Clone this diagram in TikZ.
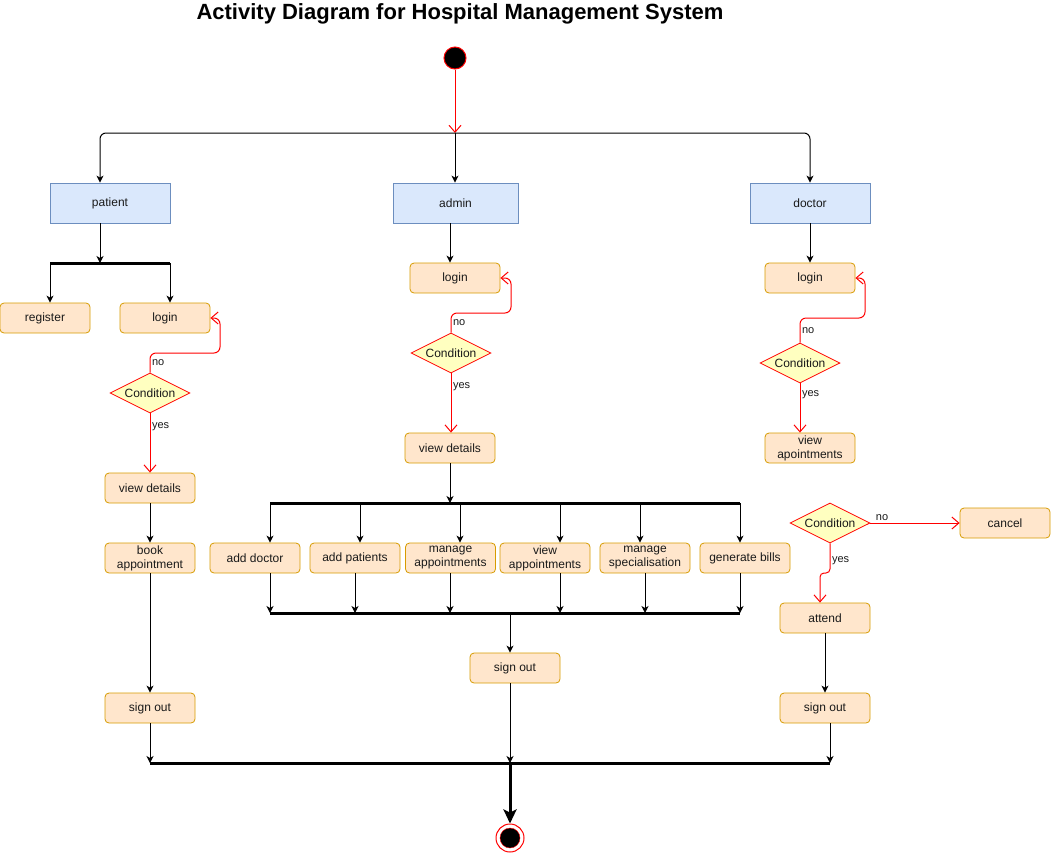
\documentclass[tikz,border=0pt]{standalone}
\usepackage{fontspec}
\setmainfont{Liberation Sans}
\usetikzlibrary{arrows.meta,shapes.geometric}
\definecolor{actfill}{HTML}{FFE6CC}
\definecolor{actstroke}{HTML}{D79B00}
\definecolor{rolefill}{HTML}{DAE8FC}
\definecolor{rolestroke}{HTML}{6C8EBF}
\definecolor{condfill}{HTML}{FFFFC0}
\definecolor{txt}{HTML}{1A1A1A}
\begin{document}
\begin{tikzpicture}[x=1pt,y=-1pt,
  act/.style={draw=actstroke, fill=actfill, rounded corners=4pt, minimum width=90pt, minimum height=30pt, inner sep=0pt, text=txt, font=\fontsize{12}{14}\selectfont, align=center, line width=0.8pt},
  role/.style={draw=rolestroke, fill=rolefill, minimum width=120pt, minimum height=40pt, inner sep=0pt, text=txt, font=\fontsize{12}{14}\selectfont, line width=0.8pt},
  cond/.style={diamond, aspect=2, draw=red, fill=condfill, minimum width=80pt, minimum height=40pt, inner sep=0pt, text=txt, font=\fontsize{12}{14}\selectfont, line width=0.8pt},
  flow/.style={draw=black, line width=1pt, -{Stealth[length=7pt,width=7pt,inset=2pt]}},
  rflow/.style={draw=red, line width=1pt, -{Straight Barb[length=7pt,width=12pt]}, rounded corners=6pt},
  bar/.style={draw=black, line width=3pt},
  lbl/.style={font=\fontsize{11}{12}\selectfont, inner sep=1.5pt, text=txt}
]
\useasboundingbox (0,0) rectangle (1051,854);

% title
\node[font=\bfseries\fontsize{22}{26}\selectfont] (title) at (460,14) {Activity Diagram for Hospital Management System};

% start
\node[circle, draw=red, fill=black, line width=1pt, minimum size=22pt, inner sep=0pt] (start) at (455,58) {};
\coordinate (topfork) at (455,133);

% roles
\node[role, minimum width=120pt] (patient) at (110,203) {patient};
\node[role, minimum width=125pt] (admin) at (455.5,203) {admin};
\node[role, minimum width=120pt] (doctor) at (810,203) {doctor};

% patient column
\coordinate (pfork) at (100,263);
\coordinate (pbarL) at (50,263);
\coordinate (pbarR) at (170,263);
\node[act] (register) at (45,318) {register};
\node[act] (plogin) at (165,318) {login};
\node[cond] (pcond) at (150,393) {Condition};
\node[act] (pvd) at (150,488) {view details};
\node[act] (book) at (150,558) {book\\appointment};
\node[act] (psign) at (150,708) {sign out};

% admin column
\node[act] (alogin) at (455,278) {login};
\node[cond] (acond) at (451,353) {Condition};
\node[act] (avd) at (450,448) {view details};
\coordinate (a1mid) at (450,503);
\coordinate (a1L) at (270,503);
\coordinate (a1R) at (740,503);
\coordinate (s2) at (360,503);
\coordinate (s3) at (460,503);
\coordinate (s4) at (560,503);
\coordinate (s5) at (640,503);
\node[act] (addoc) at (255,558) {add doctor};
\node[act] (addpat) at (355,558) {add patients};
\node[act] (manapp) at (450.5,558) {manage\\appointments};
\node[act] (viewapp) at (545,558) {view\\appointments};
\node[act] (manspec) at (645,558) {manage\\specialisation};
\node[act] (genbill) at (745,558) {generate bills};
\coordinate (a2L) at (270,613);
\coordinate (a2R) at (740,613);
\coordinate (t2) at (355,613);
\coordinate (t3) at (450,613);
\coordinate (t4) at (560,613);
\coordinate (t5) at (645,613);
\coordinate (a2mid) at (510,613);
\node[act] (asign) at (515,668) {sign out};

% doctor column
\node[act] (dlogin) at (810,278) {login};
\node[cond] (dcond) at (800,363) {Condition};
\node[act] (dva) at (810,448) {view\\apointments};
\node[cond] (dcond2) at (830,523) {Condition};
\node[act] (cancel) at (1005,523) {cancel};
\node[act] (attend) at (825,618) {attend};
\node[act] (dsign) at (825,708) {sign out};

% end
\coordinate (ebarL) at (150,763);
\coordinate (ebarR) at (830,763);
\coordinate (emid) at (510,763);
\node[circle, draw=red, fill=white, line width=1pt, minimum size=28pt, inner sep=0pt] (end) at (510,838) {};
\node[circle, draw=red, fill=black, line width=0.4pt, minimum size=20pt, inner sep=0pt] (endcore) at (end) {};

% bars
\draw[bar] (pbarL) -- (pbarR);
\draw[bar] (a1L) -- (a1R);
\draw[bar] (a2L) -- (a2R);
\draw[bar] (ebarL) -- (ebarR);

% top connectors
\draw[rflow] (start) -- (topfork);
\draw[flow, rounded corners=6pt] (topfork) -| (pfork |- patient.north);
\draw[flow] (topfork) -- (topfork |- admin.north);
\draw[flow, rounded corners=6pt] (topfork) -| (doctor.north);

% patient flow
\draw[flow] (patient.south -| pfork) -- (pfork);
\draw[flow] (pbarL) -- (pbarL |- register.north);
\draw[flow] (pbarR) -- (pbarR |- plogin.north);
\draw[rflow] (pcond.north) |- (220,353) node[lbl, pos=0.25, right] {no} |- (plogin.east);
\draw[rflow] (pcond.south) -- (pvd.north) node[lbl, pos=0.22, right] {yes};
\draw[flow] (pvd) -- (book);
\draw[flow] (book) -- (psign);
\draw[flow] (psign.south) -- (ebarL);

% admin flow
\draw[flow] (admin.south -| avd.north) -- (avd.north |- alogin.north);
\draw[rflow] (acond.north) |- (511,313) node[lbl, pos=0.25, right] {no} |- (alogin.east);
\draw[rflow] (acond.south) -- (acond.south |- avd.north) node[lbl, pos=0.22, right] {yes};
\draw[flow] (avd.south) -- (a1mid);
\draw[flow] (a1L) -- (a1L |- addoc.north);
\draw[flow] (s2) -- (s2 |- addpat.north);
\draw[flow] (s3) -- (s3 |- manapp.north);
\draw[flow] (s4) -- (s4 |- viewapp.north);
\draw[flow] (s5) -- (s5 |- manspec.north);
\draw[flow] (a1R) -- (a1R |- genbill.north);
\draw[flow] (addoc.south -| a2L) -- (a2L);
\draw[flow] (addpat.south -| t2) -- (t2);
\draw[flow] (manapp.south -| t3) -- (t3);
\draw[flow] (viewapp.south -| t4) -- (t4);
\draw[flow] (manspec.south -| t5) -- (t5);
\draw[flow] (genbill.south -| a2R) -- (a2R);
\draw[flow] (a2mid) -- (a2mid |- asign.north);
\draw[flow] (asign.south -| emid) -- (emid);

% doctor flow
\draw[flow] (doctor.south) -- (dlogin.north);
\draw[rflow] (dcond.north) |- (865,318) node[lbl, pos=0.25, right] {no} |- (dlogin.east);
\draw[rflow] (dcond.south) -- (dcond.south |- dva.north) node[lbl, pos=0.22, right] {yes};
\draw[rflow] (dcond2.east) -- (cancel.west) node[lbl, pos=0.04, above right] {no};
\draw[rflow, rounded corners=4pt] (dcond2.south) |- (820,573) node[lbl, pos=0.3, right] {yes} -- (attend.north -| 820,0);
\draw[flow] (attend) -- (dsign);
\draw[flow] (dsign.south -| ebarR) -- (ebarR);

% end connector
\draw[line width=3pt, -{Stealth[length=14pt,width=13pt,inset=3pt]}] (emid) -- (end.north);
\end{tikzpicture}
\end{document}
